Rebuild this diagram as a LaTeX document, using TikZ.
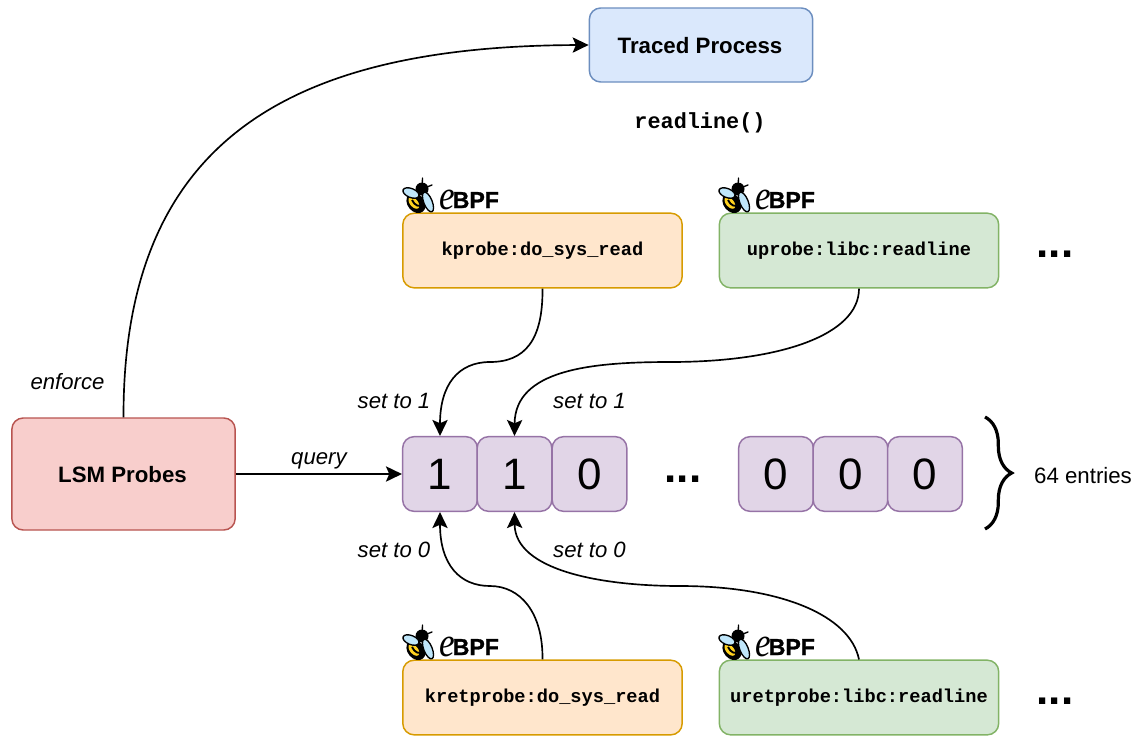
\documentclass[tikz,border=0pt]{standalone}
\usepackage{fontspec}
\setmainfont{Liberation Sans}
\setmonofont{Liberation Mono}
\newfontfamily\logofont{Liberation Sans}[BoldFeatures={FakeBold=1.2}]
\newfontfamily\logoserif{Liberation Serif}
\usepackage{xcolor}
\usetikzlibrary{arrows.meta}
\usetikzlibrary{decorations.pathreplacing}
\definecolor{blueFill}{HTML}{DAE8FC}
\definecolor{blueLine}{HTML}{6C8EBF}
\definecolor{redFill}{HTML}{F8CECC}
\definecolor{redLine}{HTML}{B85450}
\definecolor{orangeFill}{HTML}{FFE6CC}
\definecolor{orangeLine}{HTML}{D79B00}
\definecolor{greenFill}{HTML}{D5E8D4}
\definecolor{greenLine}{HTML}{82B366}
\definecolor{purpleFill}{HTML}{E1D5E7}
\definecolor{purpleLine}{HTML}{9673A6}
\definecolor{wingBlue}{HTML}{BFE6FA}
\definecolor{beeYellow}{HTML}{FFD21F}
\tikzset{
  box/.style={draw, rounded corners=8.5pt, line width=1.1pt, inner sep=0pt},
  probebox/.style={box, minimum width=209.5pt, minimum height=56pt, font=\ttfamily\bfseries\fontsize{14}{16}\selectfont},
  orangebox/.style={probebox, fill=orangeFill, draw=orangeLine},
  greenbox/.style={probebox, fill=greenFill, draw=greenLine},
  cell/.style={box, fill=purpleFill, draw=purpleLine, minimum width=56pt, minimum height=56pt, font=\fontsize{33}{36}\selectfont},
  conn/.style={-{Stealth[length=12pt, width=11.5pt, inset=2.5pt]}, line width=1.25pt},
  lbl/.style={font=\itshape\fontsize{16.6}{18}\selectfont, inner sep=0pt},
  more/.style={font=\bfseries\fontsize{33}{35}\selectfont, inner sep=0pt},
  ebpflogo/.pic={
    % bee
    \draw[line width=1pt, line cap=round] (19,11) -- (19.5,0);
    \draw[line width=1pt, line cap=round] (19,11) -- (29,7);
    \fill (19,11) circle (6.5);
    \fill[rotate around={-50:(13,25)}] (13,25) ellipse (11 and 8.5);
    \fill[beeYellow, rotate around={-50:(13,25)}] (11.5,26.5) ellipse (7 and 4);
    \draw[line width=1.4pt] (9,22) .. controls (12,28) and (16,29) .. (20,27);
    \draw[fill=wingBlue, line width=1pt, rotate around={-22:(8,15)}] (8,15) ellipse (8.5 and 4.5);
    \draw[fill=wingBlue, line width=1pt, rotate around={-68:(25,24)}] (25,24) ellipse (10.5 and 4.2);
    % wordmark
    \node[inner sep=0pt, anchor=base west] (e) at (36,31) {\logoserif\itshape\fontsize{31}{32}\selectfont\scalebox{.85}[1]{e}};
    \node[inner sep=0pt, anchor=base west] (bpf) at (49.5,30) {\logofont\bfseries\fontsize{17.3}{18}\selectfont BPF};
  }
}
\begin{document}
\begin{tikzpicture}[x=0.75pt, y=-0.75pt]
  \useasboundingbox (0,0) rectangle (1138,736);

  % Traced process
  \node[box, fill=blueFill, draw=blueLine, minimum width=167.5pt, minimum height=55.5pt] (traced) at (701,45) {};
  \node[inner sep=0pt, font=\bfseries\fontsize{16.7}{18}\selectfont] (tracedtext) at (700,46) {Traced Process};
  \node[inner sep=0pt, font=\ttfamily\bfseries\fontsize{16.4}{18}\selectfont] (readline) at (700,123) {readline()};

  % LSM probes
  \node[box, fill=redFill, draw=redLine, minimum width=167.5pt, minimum height=84pt] (lsm) at (123.5,474) {};
  \node[inner sep=0pt, font=\bfseries\fontsize{16.7}{18}\selectfont] (lsmtext) at (122.5,475) {LSM Probes};

  % Probes
  \node[orangebox] (kprobe) at (542.5,250.5) {kprobe:do\_sys\_read};
  \node[greenbox] (uprobe) at (859,250.5) {uprobe:libc:readline};
  \node[orangebox] (kretprobe) at (542.5,697.5) {kretprobe:do\_sys\_read};
  \node[greenbox] (uretprobe) at (859,697.5) {uretprobe:libc:readline};

  % Logos
  \foreach \x/\y/\n in {403/178/a, 719/178/b, 403/625/c, 719/625/d} {
    \pic[name prefix=logo\n] at (\x,\y) {ebpflogo};
  }

  % Bitmap
  \foreach \x/\v/\n in {440/1/1, 514.5/1/2, 589.5/0/3, 776/0/4, 850.5/0/5, 925/0/6} {
    \node[cell] (cell\n) at (\x,474) {\v};
  }
  \node[more] (dotsmid) at (683,479) {...};
  \node[more] (dotstop) at (1055,254) {...};
  \node[more] (dotsbot) at (1055,701) {...};

  % Brace
  \coordinate (bracetop) at (985,417);
  \coordinate (bracebot) at (985,529);
  \draw[line width=2.4pt, decorate, decoration={brace, amplitude=20pt, aspect=.5}] (bracetop) -- (bracebot);
  \node[inner sep=0pt, font=\fontsize{16.7}{18}\selectfont] (entries) at (1083,476) {64 entries};

  % Connectors
  \draw[conn] (lsm.north) .. controls (123,140) and (290,46) .. (traced.west);
  \draw[conn] (lsm.east) -- (cell1.west) node[lbl, pos=.5, above=3pt] (query) {query};
  \draw[conn] (kprobe.south) .. controls (543,340) and (525,362) .. (490,362)
                             .. controls (458,362) and (440,385) .. (cell1.north);
  \draw[conn] (uprobe.south) .. controls (859,335) and (780,362) .. (670,362)
                             .. controls (590,362) and (515,370) .. (cell2.north);
  \draw[conn] (kretprobe.north) .. controls (543,612) and (520,586) .. (490,586)
                                .. controls (460,586) and (440,565) .. (cell1.south);
  \draw[conn] (uretprobe.north) .. controls (850,615) and (780,586) .. (680,586)
                                .. controls (600,586) and (515,570) .. (cell2.south);

  % Labels
  \node[lbl] (enforce) at (67.5,382) {enforce};
  \node[lbl] (setonea) at (394,401) {set to 1};
  \node[lbl] (setoneb) at (589.5,401) {set to 1};
  \node[lbl] (setzeroa) at (394,550) {set to 0};
  \node[lbl] (setzerob) at (589.5,550) {set to 0};
\end{tikzpicture}
\end{document}
